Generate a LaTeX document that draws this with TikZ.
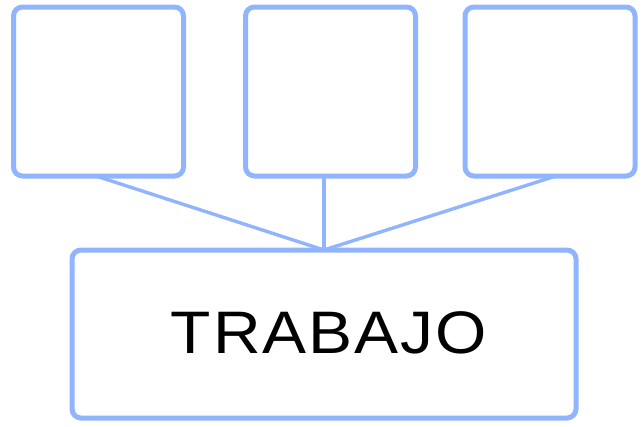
\documentclass[tikz,border=0pt]{standalone}
\usepackage{fontspec}
\setmainfont{Liberation Sans}
\newfontfamily\labelfont[LetterSpace=3]{Liberation Sans}
\definecolor{boxblue}{RGB}{145,180,255}
\begin{document}
\begin{tikzpicture}[x=1pt,y=-1pt,
  boxstyle/.style={draw=boxblue,line width=5pt,rounded corners=9pt,fill=white,inner sep=0pt,outer sep=0pt},
  topbox/.style={boxstyle,minimum width=170pt,minimum height=169pt},
  link/.style={draw=boxblue,line width=3.4pt}]
\useasboundingbox (0,0) rectangle (643,426);
\node[topbox] (t1) at (98.5,91.5) {};
\node[topbox] (t2) at (330.5,91.5) {};
\node[topbox] (t3) at (550,91.5) {};
\node[boxstyle,minimum width=504pt,minimum height=168pt] (b) at (324,334) {};
\node[inner sep=0pt,font=\labelfont\fontsize{60pt}{60pt}\selectfont] (lbl) at (329,333) {\scalebox{1.1}[1]{TRABAJO}};
\draw[link] ([xshift=-2.5pt]t1.south) -- (b.north);
\draw[link] ([xshift=-6.5pt]t2.south) -- (b.north);
\draw[link] ([xshift=6pt]t3.south) -- (b.north);
\end{tikzpicture}
\end{document}
